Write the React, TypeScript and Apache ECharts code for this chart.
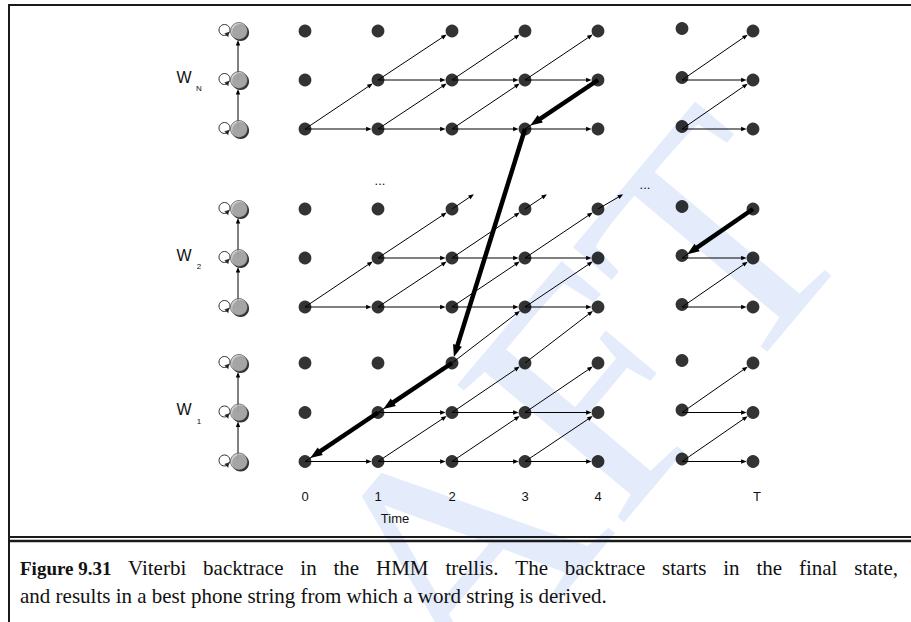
import React, { useEffect, useRef } from 'react';
import * as echarts from 'echarts';

// ---------- data ----------
// trellis columns: time steps 0..4, then T-1 and T
const timeLabels = ['0', '1', '2', '3', '4', '', 'T'];
const colX = [305, 378, 452, 525, 598, 682, 753];
// the dots of the T-1 column sit slightly higher than the others
const colShift = [0, 0, 0, 0, 0, -2.5, 0];
// phone-state rows (bottom, middle, top) of each word model
const rowsW1 = [461.5, 412.5, 363];
const rowsW2 = [307, 258, 209];
const rowsWN = [129, 80, 31];
const modelX = 239;
const wordNames = ['W', 'W', 'W'];
const wordSubs = ['1', '2', 'N'];
// horizontal transitions inside a word: [row, fromCol, toCol]
const horizontalEdges = [[0, 0, 1], [0, 1, 2], [0, 2, 3], [0, 3, 4], [0, 5, 6], [1, 1, 2], [1, 2, 3], [1, 3, 4], [1, 5, 6]];
// transitions to the next state of a word: [fromRow, fromCol, toCol]
const diagonalEdges = [[0, 0, 1], [0, 1, 2], [0, 2, 3], [0, 3, 4], [0, 5, 6], [1, 1, 2], [1, 2, 3], [1, 3, 4], [1, 5, 6]];
// word-to-word transitions: [fromWord, fromRow, fromCol, toWord, toRow, toCol]
const crossEdges = [[0, 2, 2, 1, 0, 3], [0, 2, 3, 1, 0, 4]];
// transitions leaving a word towards the elided words: [word, col]
const exitStubs = [[1, 2], [1, 3], [1, 4]];
// backtrace chains: [word, row, col]
const backtraceA = [[1, 2, 6], [1, 1, 5]];
const backtraceB = [[2, 1, 4], [2, 0, 3], [0, 2, 2], [0, 1, 1], [0, 0, 0]];
const ellipsisText = ['...', '...'];
const figLabel = 'Figure 9.31';
const captionLine1 = 'Viterbi backtrace in the HMM trellis. The backtrace starts in the final state,';
const captionLine2 = 'and results in a best phone string from which a word string is derived.';
const watermark = 'DRAFT';

// ---------- styles ----------
const W = 911, H = 622;
const DOT_R = 6.4;
const STATE_R = 8.5;
const STUB = 0.3;
const SANS = '"Liberation Sans", Arial, sans-serif';
const SERIF = '"Liberation Serif", "Times New Roman", serif';

function measure(text: string, font: string) {
  const c = document.createElement('canvas').getContext('2d')!;
  c.font = font;
  return c.measureText(text).width;
}

function buildOption() {
  const rowsByWord = [rowsW1, rowsW2, rowsWN];
  const dots: number[][] = [];
  rowsByWord.forEach(rows => rows.forEach(y => colX.forEach((x, c) => dots.push([x, y + colShift[c]]))));

  const edges: number[][] = [];
  rowsByWord.forEach(rows => {
    horizontalEdges.forEach(([r, a, b]) => edges.push([colX[a], rows[r], colX[b], rows[r], 0, DOT_R]));
    diagonalEdges.forEach(([r, a, b]) => edges.push([colX[a], rows[r], colX[b], rows[r + 1], 0, DOT_R]));
    for (let i = 0; i < 2; i++) edges.push([modelX - 1, rows[i], modelX - 1, rows[i + 1], 0, STATE_R + 0.5]);
  });
  crossEdges.forEach(([w1, r1, c1, w2, r2, c2]) =>
    edges.push([colX[c1], rowsByWord[w1][r1], colX[c2], rowsByWord[w2][r2], 0, DOT_R]));
  exitStubs.forEach(([w, c]) => {
    const rows = rowsByWord[w];
    const x = colX[c], y = rows[2];
    edges.push([x, y, x + (colX[c + 1] - x) * STUB, y + (rows[2] - rows[1]) * STUB, 0, 0]);
  });
  [backtraceA, backtraceB].forEach(chain => {
    for (let i = 0; i < chain.length - 1; i++) {
      const [wa, ra, ca] = chain[i];
      const [wb, rb, cb] = chain[i + 1];
      edges.push([colX[ca], rowsByWord[wa][ra], colX[cb], rowsByWord[wb][rb], 1, DOT_R]);
    }
  });

  const states: number[][] = [];
  rowsByWord.forEach(rows => rows.forEach(y => states.push([modelX, y])));

  const graphic: any[] = [];
  // watermark
  graphic.push({
    type: 'text', x: 431, y: 579, rotation: 50 * Math.PI / 180, z: -10, silent: true,
    style: { text: watermark, fontSize: 330, fontFamily: SERIF, fill: '#e4ebfb', textAlign: 'center', textVerticalAlign: 'middle', align: 'center', verticalAlign: 'middle' },
  });
  // frame
  const frame = { stroke: '#1a1a1a' };
  graphic.push({ type: 'line', z: 50, shape: { x1: 8, y1: 5, x2: W, y2: 5 }, style: { ...frame, lineWidth: 2 } });
  graphic.push({ type: 'line', z: 50, shape: { x1: 9, y1: 4, x2: 9, y2: H }, style: { ...frame, lineWidth: 2 } });
  graphic.push({ type: 'line', z: 50, shape: { x1: 9, y1: 537, x2: W, y2: 537 }, style: { ...frame, lineWidth: 1.8 } });
  graphic.push({ type: 'line', z: 50, shape: { x1: 9, y1: 541, x2: W, y2: 541 }, style: { ...frame, lineWidth: 2.4 } });

  const txt = (text: string, x: number, y: number, size: number, family: string, extra: any = {}) => ({
    type: 'text', x, y, z: 60, silent: true,
    style: { text, fontSize: size, fontFamily: family, fill: '#111', textAlign: 'center', textVerticalAlign: 'middle', align: 'center', verticalAlign: 'middle', ...extra },
  });
  // word labels
  wordNames.forEach((n, i) => {
    const ym = rowsByWord[i][1];
    graphic.push(txt(n, 184, ym - 3, 16, SANS));
    graphic.push(txt(wordSubs[i], 199, ym + 8.5, 8, SANS));
  });
  // time labels
  timeLabels.forEach((t, i) => { if (t) graphic.push(txt(t, colX[i] + (t === 'T' ? 4 : 0), 496, 13, SANS)); });
  graphic.push(txt('Time', 395, 518, 13, SANS));
  graphic.push(txt(ellipsisText[0], 380, 180, 13, SANS));
  graphic.push(txt(ellipsisText[1], 645, 184, 13, SANS));
  // caption
  const capSize = 21;
  graphic.push(txt(figLabel, 20, 568, 19, SERIF, { textAlign: 'left', align: 'left', fontWeight: 'bold' }));
  const words = captionLine1.split(' ');
  const font = `${capSize}px "Liberation Serif"`;
  const widths = words.map(w => measure(w, font));
  const x0 = 128, x1 = 898;
  const gap = (x1 - x0 - widths.reduce((a, b) => a + b, 0)) / (words.length - 1);
  let cx = x0;
  words.forEach((w, i) => {
    graphic.push(txt(w, cx, 568, capSize, SERIF, { textAlign: 'left', align: 'left' }));
    cx += widths[i] + gap;
  });
  graphic.push(txt(captionLine2, 20, 596, capSize, SERIF, { textAlign: 'left', align: 'left' }));

  return {
    animation: false,
    backgroundColor: '#fff',
    grid: { left: 0, right: 0, top: 0, bottom: 0 },
    xAxis: { type: 'value', min: 0, max: W, show: false },
    yAxis: { type: 'value', min: 0, max: H, inverse: true, show: false },
    graphic,
    series: [
      {
        type: 'custom', coordinateSystem: 'cartesian2d', z: 3, silent: true, clip: false,
        data: edges,
        renderItem: (_p: any, api: any) => {
          const a = api.coord([api.value(0), api.value(1)]);
          const b = api.coord([api.value(2), api.value(3)]);
          const thick = api.value(4) === 1;
          const g = api.value(5);
          const dx = b[0] - a[0], dy = b[1] - a[1];
          const len = Math.hypot(dx, dy);
          const ux = dx / len, uy = dy / len;
          const tip = [b[0] - ux * g, b[1] - uy * g];
          const hl = thick ? 12 : 5.5, hw = thick ? 4.6 : 2.2;
          const base = [tip[0] - ux * hl, tip[1] - uy * hl];
          const nx = -uy, ny = ux;
          return {
            type: 'group',
            children: [
              { type: 'line', shape: { x1: a[0], y1: a[1], x2: base[0] + ux * 2, y2: base[1] + uy * 2 }, style: { stroke: '#000', lineWidth: thick ? 4.5 : 1 } },
              { type: 'polygon', shape: { points: [tip, [base[0] + nx * hw, base[1] + ny * hw], [base[0] - nx * hw, base[1] - ny * hw]] }, style: { fill: '#000' } },
            ],
          };
        },
      },
      {
        type: 'scatter', z: 4, silent: true, data: dots, symbol: 'circle', symbolSize: DOT_R * 2,
        itemStyle: { color: '#000' }, emphasis: { disabled: true },
      },
      {
        type: 'scatter', z: 2, silent: true, data: states, symbol: 'circle', symbolSize: 11, symbolOffset: [-14.5, -1],
        itemStyle: { color: 'rgba(0,0,0,0)', borderColor: '#000', borderWidth: 1 }, emphasis: { disabled: true },
      },
      {
        type: 'scatter', z: 4, silent: true, data: states, symbol: 'triangle', symbolSize: [5, 5], symbolRotate: 200, symbolOffset: [-11.5, 4],
        itemStyle: { color: '#000' }, emphasis: { disabled: true },
      },
      {
        type: 'scatter', z: 4, silent: true, data: states, symbol: 'circle', symbolSize: STATE_R * 2, symbolOffset: [1.6, 1.6],
        itemStyle: { color: '#000' }, emphasis: { disabled: true },
      },
      {
        type: 'scatter', z: 5, silent: true, data: states, symbol: 'circle', symbolSize: STATE_R * 2,
        itemStyle: { color: '#c2c2c2', borderColor: '#444', borderWidth: 0.8 }, emphasis: { disabled: true },
      },
    ],
  };
}

export default function App() {
  const ref = useRef<HTMLDivElement>(null);
  useEffect(() => {
    const chart = echarts.init(ref.current!, undefined, { renderer: 'svg' });
    chart.setOption(buildOption() as any);
    return () => chart.dispose();
  }, []);
  return <div ref={ref} style={{ position: 'fixed', left: 0, top: 0, width: W, height: H, background: '#fff' }} />;
}
